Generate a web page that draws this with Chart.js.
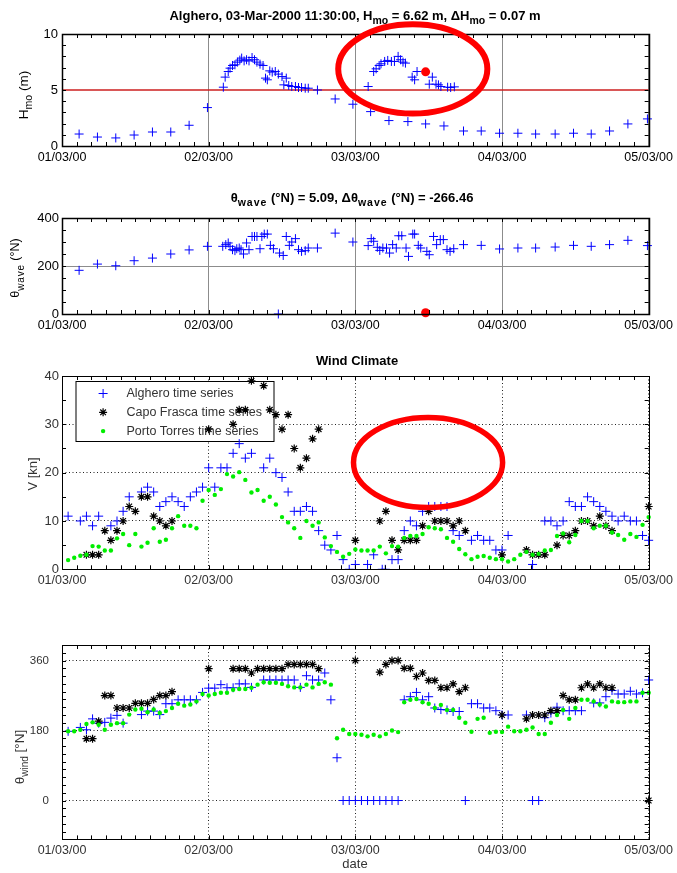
<!DOCTYPE html>
<html>
<head>
<meta charset="utf-8">
<script src="https://cdn.jsdelivr.net/npm/chart.js@4.4.1/dist/chart.umd.min.js"></script>
<style>
  html, body { margin: 0; padding: 0; background: #fff; }
  #page { position: relative; width: 677px; height: 873px; overflow: hidden; }
  #page canvas { position: absolute; left: 0; }
</style>
</head>
<body>
<div id="page">
  <canvas id="hmoChart" width="677" height="175" style="top:0px"></canvas>
  <canvas id="waveDirChart" width="677" height="160" style="top:180px"></canvas>
  <canvas id="windSpeedChart" width="677" height="255" style="top:345px"></canvas>
  <canvas id="windDirChart" width="677" height="263" style="top:610px"></canvas>
</div>
<script>
const FONT = '"Liberation Sans", Arial, Helvetica, sans-serif';

// time axis: hours since 01/03/2000 00:00
const dayTicks = [0, 24, 48, 72, 96];
const dateLabels = ['01/03/00', '02/03/00', '03/03/00', '04/03/00', '05/03/00'];

// wave height (Alghero buoy)
const hmoTicks = [0, 5, 10];
const hmoThreshold = 5;
const hmoNow = [59.5, 6.62];
const hmoDelta = 0.07;
const hmoSeries = [
  [2.8, 1.07], [5.8, 0.8], [8.8, 0.72], [11.8, 0.98], [14.8, 1.25], [17.8, 1.25], [20.8, 1.85], [23.8, 3.43],
  [26.4, 5.25], [26.7, 6.15], [27.2, 6.65], [27.5, 6.95], [27.9, 7.19], [28.3, 7.25], [28.7, 7.49], [29.1, 7.67],
  [29.4, 7.85], [29.8, 7.6], [30.2, 7.7], [30.6, 7.6], [31.1, 7.9], [31.5, 7.7], [31.9, 7.49], [32.4, 7.31],
  [32.9, 7.19], [33.3, 6.06], [33.6, 5.91], [34.0, 6.71], [34.4, 6.6], [34.9, 6.65], [35.4, 6.42], [36.0, 6.2],
  [36.3, 5.46], [36.7, 6.06], [37.1, 5.4], [37.6, 5.31], [38.2, 5.31], [38.7, 5.22], [39.2, 5.22], [39.8, 5.16],
  [40.3, 5.16], [41.8, 5.0], [44.7, 4.2], [47.6, 3.73],
  [50.1, 5.31], [50.5, 3.07], [51.0, 6.65], [51.4, 6.89], [51.9, 7.19], [52.2, 7.34], [52.8, 7.55], [53.3, 7.64],
  [53.5, 2.27], [53.9, 7.55], [54.4, 7.55], [55.0, 8.0], [55.4, 7.7], [55.8, 7.49], [56.2, 7.4], [56.6, 2.18],
  [57.3, 6.15], [57.7, 5.91], [58.1, 6.65], [59.5, 1.97], [60.1, 5.52], [60.6, 6.15], [61.2, 5.52], [61.6, 5.46],
  [62.0, 5.31], [62.5, 1.79], [63.1, 5.25], [63.6, 5.22], [64.2, 5.28],
  [65.7, 1.34], [68.6, 1.34], [71.6, 1.14], [74.6, 1.14], [77.5, 1.07], [80.7, 1.07], [83.7, 1.14], [86.6, 1.07],
  [89.6, 1.34], [92.6, 1.97], [95.8, 2.42]
];

// wave direction
const waveDirTicks = [0, 200, 400];
const waveDirNow = [59.5, 5.09];
const waveDirDelta = -266.46;
const waveDirSeries = [
  [2.8, 182], [5.8, 208], [8.8, 201], [11.8, 222], [14.8, 233], [17.8, 250], [20.8, 267], [23.8, 282],
  [26.3, 282], [26.8, 289], [27.2, 296], [27.5, 282], [27.9, 268], [28.3, 264], [28.6, 272], [29.0, 275],
  [29.3, 268], [29.7, 250], [30.2, 296], [30.6, 268], [31.1, 323], [31.5, 323], [31.9, 323], [32.4, 272],
  [32.7, 323], [33.1, 333], [33.6, 333], [34.1, 286], [34.6, 272], [35.4, 0], [35.6, 254], [36.2, 244],
  [36.7, 323], [37.2, 286], [37.6, 300], [38.2, 314], [38.7, 268], [39.2, 261], [39.8, 264], [40.3, 275],
  [41.8, 275], [44.7, 337], [47.6, 300],
  [50.1, 285], [50.6, 314], [51.0, 303], [51.6, 278], [52.0, 265], [52.5, 275], [53.1, 275], [53.6, 254],
  [54.1, 289], [54.7, 275], [55.1, 326], [55.6, 326], [56.3, 275], [56.7, 240], [57.4, 333], [57.7, 333],
  [58.3, 286], [58.7, 275], [59.7, 261], [60.1, 247], [60.8, 323], [61.3, 289], [61.9, 310], [62.4, 310],
  [63.0, 268], [63.5, 261], [64.1, 272],
  [65.7, 289], [68.6, 286], [71.6, 271], [74.6, 275], [77.5, 275], [80.7, 279], [83.7, 286], [86.6, 282],
  [89.6, 289], [92.6, 307], [95.8, 285]
];

// wind stations
const stationNames = ['Alghero time series', 'Capo Frasca time series', 'Porto Torres time series'];

// wind speed [kn]
const windSpeedTicks = [0, 10, 20, 30, 40];
const algheroSpeed = [
  [1, 11], [3, 10], [4, 11], [5, 9], [6, 11], [8, 9], [9, 10], [10, 12], [11, 15], [13, 16], [14, 17], [15, 16],
  [16, 13], [17, 14], [18, 15], [19, 14], [20, 13], [21, 15], [22, 16], [23, 17], [24, 21], [25, 17], [26, 21],
  [27, 21], [28, 24], [29, 26], [30, 23], [31, 24], [33, 21], [34, 23], [35, 20], [36, 19], [37, 16], [38, 12],
  [39, 12], [40, 13], [41, 12], [42, 8], [43, 5], [44, 4], [45, 7], [46, 2], [47, 0], [48, 1], [50, 1], [51, 3],
  [52.4, 0], [52.9, 0], [54, 2], [55, 2], [56, 8], [57, 10], [58, 9], [59, 12], [60, 13], [61, 13], [62, 13],
  [63, 13], [64, 8], [65, 7], [67, 6], [68, 7], [69, 6], [70, 6], [71, 4], [72, 4], [73, 7], [77, 1], [79, 10],
  [80, 10], [81, 9], [82, 10], [83, 14], [84, 13], [85, 13], [86, 15], [87, 14], [88, 13], [89, 12], [90, 11],
  [91, 10], [92, 11], [93, 10], [94, 10], [95, 7], [96, 6]
];
const capoFrascaSpeed = [
  [4, 3], [5, 3], [6, 3], [7, 8], [8, 6], [9, 8], [10, 10], [11, 13], [12, 12], [13, 15], [14, 15], [15, 11],
  [16, 10], [17, 9], [18, 10], [24, 29], [28, 30], [29, 33], [30, 33], [31, 39], [33, 38], [34, 33], [35, 32],
  [36, 29], [37, 32], [38, 25], [39, 21], [40, 23], [41, 27], [42, 29], [48, 6], [52, 10], [53, 12], [54, 6],
  [55, 4], [56, 6], [57, 6], [58, 6], [59, 9], [60, 12], [61, 10], [62, 10], [63, 10], [64, 9], [65, 10], [66, 8],
  [72, 3], [76, 4], [77, 3], [78, 3], [79, 3], [81, 5], [82, 7], [83, 7], [84, 8], [85, 10], [86, 10], [87, 9],
  [88, 11], [89, 9], [90, 8], [96, 13]
];
const portoTorresSpeed = [
  [1, 1.9], [2, 2.4], [3, 2.8], [4, 3], [5, 4.8], [6, 4.7], [7, 3.9], [8, 3.9], [9, 6.4], [10, 7.3], [11, 5],
  [12, 7.3], [13, 4.7], [14, 5.5], [15, 8.5], [16, 5.7], [17, 6.1], [18, 8.5], [19, 11], [20, 9], [21, 9],
  [22, 8.5], [23, 14.2], [24, 16.4], [25, 15.4], [26, 16.6], [27, 19.7], [28, 19.2], [29, 20.1], [30, 18.5],
  [31, 15.9], [32, 16.4], [33, 14.2], [34, 15], [35, 13.4], [36, 10.8], [37, 9.7], [38, 8.5], [39, 6.5], [40, 10],
  [41, 9], [42, 9.7], [43, 6.6], [44, 4.8], [45, 3.6], [46, 2.6], [47, 3.2], [48, 4.1], [49, 3.9], [50, 3.9],
  [51, 3.9], [52, 4.7], [53, 3.3], [54, 4.8], [55, 4.7], [56, 6.5], [57, 6.9], [58, 6.9], [59, 7.3], [60, 8.7],
  [61, 8.5], [62, 8.3], [63, 6.5], [64, 5.7], [65, 4.2], [66, 3.1], [67, 2.1], [68, 2.6], [69, 2.75], [70, 2.4],
  [71, 2.1], [72, 2.1], [73, 1.6], [74, 2.1], [75, 3], [76, 3.6], [77, 3], [78, 3.2], [79, 3.9], [80, 4],
  [81, 6.9], [82, 7.4], [83, 5.6], [84, 7.1], [85, 10], [86, 10], [87, 8.5], [88, 9], [89, 9], [90, 7.6],
  [91, 7.1], [92, 6.1], [93, 7.3], [94, 6.7], [95, 9.2], [96, 10.8]
];

// wind direction [deg N]
const windDirTicks = [0, 180, 360];
const algheroDir = [
  [1, 178], [3, 188], [4, 182], [5, 210], [6, 199], [7, 201], [8, 212], [9, 219], [10, 199], [13, 221], [14, 230],
  [15, 230], [16, 221], [17, 249], [18, 249], [19, 259], [20, 259], [21, 259], [22, 259], [23, 278], [24, 289],
  [25, 289], [26, 298], [27, 290], [28, 290], [29, 300], [30, 300], [31, 291], [33, 310], [34, 310], [35, 310],
  [36, 310], [37, 310], [38, 310], [39, 291], [40, 321], [41, 310], [42, 310], [43, 328], [44, 259], [45, 110],
  [46, 0], [47, 0], [48, 0], [49, 0], [50, 0], [51, 0], [52, 0], [53, 0], [54, 0], [55, 0], [56, 259], [57, 267],
  [58, 278], [59, 259], [60, 267], [61, 238], [62, 234], [63, 233], [64, 229], [65, 229], [66, 0], [67, 249],
  [68, 249], [69, 238], [70, 238], [71, 231], [72, 220], [73, 220], [76, 220], [77, 0], [78, 0], [79, 213],
  [80, 225], [81, 240], [82, 231], [83, 231], [84, 231], [85, 231], [87, 251], [88, 251], [89, 267], [90, 283],
  [91, 274], [92, 274], [93, 281], [94, 274], [95, 277], [96, 310]
];
const capoFrascaDir = [
  [4, 159], [5, 159], [6, 204], [7, 270], [8, 270], [9, 238], [10, 238], [11, 238], [12, 250], [13, 250],
  [14, 250], [15, 260], [16, 270], [17, 270], [18, 280], [24, 339], [28, 339], [29, 339], [30, 339], [31, 328],
  [32, 339], [33, 339], [34, 339], [35, 339], [36, 339], [37, 350], [38, 350], [39, 350], [40, 350], [41, 350],
  [42, 339], [48, 360], [52, 330], [53, 350], [54, 360], [55, 360], [56, 340], [57, 340], [58, 319], [59, 328],
  [60, 309], [61, 309], [62, 290], [63, 290], [64, 300], [65, 280], [66, 290], [72, 220], [76, 210], [77, 220],
  [78, 220], [79, 220], [80, 231], [81, 231], [82, 270], [83, 259], [84, 259], [85, 290], [86, 300], [87, 290],
  [88, 300], [89, 290], [90, 290], [96, 0]
];
const portoTorresDir = [
  [1, 178], [2, 178], [3, 182], [4, 197], [5, 201], [6, 195], [7, 182], [8, 195], [9, 199], [10, 199], [11, 221],
  [12, 234], [13, 236], [14, 227], [15, 234], [16, 225], [17, 230], [18, 238], [19, 249], [20, 244], [21, 247],
  [22, 255], [23, 274], [24, 270], [25, 274], [26, 277], [27, 277], [28, 285], [29, 287], [30, 287], [31, 290],
  [32, 298], [33, 304], [34, 303], [35, 303], [36, 300], [37, 294], [38, 291], [39, 291], [40, 298], [41, 291],
  [42, 300], [43, 304], [44, 298], [45, 160], [46, 182], [47, 171], [48, 171], [49, 169], [50, 165], [51, 169],
  [52, 165], [53, 171], [54, 180], [55, 176], [56, 253], [57, 259], [58, 261], [59, 253], [60, 249], [61, 238],
  [62, 246], [63, 233], [64, 233], [65, 213], [66, 200], [67, 177], [68, 210], [69, 213], [70, 174], [71, 177],
  [72, 176], [73, 190], [74, 178], [75, 178], [76, 182], [77, 188], [78, 171], [79, 171], [80, 200], [81, 220],
  [82, 233], [83, 210], [84, 238], [85, 259], [86, 259], [87, 255], [88, 247], [89, 242], [90, 255], [91, 253],
  [92, 253], [93, 255], [94, 255], [95, 277], [96, 277]
];

const pts = arr => arr.map(([x, y]) => ({ x, y }));

// marker styles, matlab-like
const blueCross = { pointStyle: 'cross', pointRadius: 4.5, borderColor: '#0000ff', backgroundColor: '#0000ff', borderWidth: 1 };
const blackStar = { pointStyle: 'star', pointRadius: 4, borderColor: '#000000', backgroundColor: '#000000', borderWidth: 1.2 };
const greenDot = { pointStyle: 'circle', pointRadius: 2.2, borderColor: '#00ee00', backgroundColor: '#00ee00', borderWidth: 0 };

// text with subscripts; parts = [[text, isSub], ...]
function drawRich(ctx, parts, x, y, o) {
  const fontFor = sub => `${o.weight || 'normal'} ${sub ? o.subSize : o.size}px ${FONT}`;
  let total = 0;
  const widths = parts.map(([t, sub]) => {
    ctx.font = fontFor(sub);
    ctx.letterSpacing = sub && o.subSpacing ? o.subSpacing : '0px';
    const w = ctx.measureText(t).width;
    total += w;
    return w;
  });
  let cx = x - total / 2;
  ctx.fillStyle = o.color;
  ctx.textAlign = 'left';
  ctx.textBaseline = 'alphabetic';
  parts.forEach(([t, sub], i) => {
    ctx.font = fontFor(sub);
    ctx.letterSpacing = sub && o.subSpacing ? o.subSpacing : '0px';
    ctx.fillText(t, cx, sub ? y + o.subDrop : y);
    cx += widths[i];
  });
  ctx.letterSpacing = '0px';
}

function drawLegend(chart) {
  const { ctx, chartArea: a } = chart;
  const left = a.left + 13.5, top = a.top + 5, w = 198, h = 60;
  ctx.save();
  ctx.fillStyle = '#fff';
  ctx.fillRect(left, top, w, h);
  ctx.strokeStyle = '#000';
  ctx.lineWidth = 1;
  ctx.strokeRect(left + 0.5, top + 0.5, w, h);
  chart.data.datasets.forEach((ds, i) => {
    const cy = top + 12.5 + i * 18.8;
    ctx.strokeStyle = ds.borderColor;
    ctx.fillStyle = ds.backgroundColor;
    ctx.lineWidth = ds.borderWidth;
    Chart.helpers.drawPoint(ctx, { pointStyle: ds.pointStyle, radius: ds.pointRadius, borderWidth: ds.borderWidth, rotation: 0 }, left + 27.6, cy);
    ctx.fillStyle = '#333';
    ctx.font = `12.5px ${FONT}`;
    ctx.textAlign = 'left';
    ctx.textBaseline = 'middle';
    ctx.fillText(ds.label, left + 51, cy + 0.5);
  });
  ctx.restore();
}

// box, inward ticks, titles, axis labels and the red highlight rings
function framePlugin(cfg) {
  return {
    id: 'frame',
    beforeDatasetsDraw(chart) {
      if (cfg.legend) drawLegend(chart);
    },
    afterDraw(chart) {
      const { ctx, chartArea: a, scales: { x, y } } = chart;
      ctx.save();
      ctx.strokeStyle = '#000';
      ctx.lineWidth = 1;
      ctx.beginPath();
      for (let v = x.min; v <= x.max + 1e-6; v += cfg.xMinor) {
        const px = Math.round(x.getPixelForValue(v)) + 0.5;
        ctx.moveTo(px, a.top); ctx.lineTo(px, a.top + cfg.tick);
        ctx.moveTo(px, a.bottom); ctx.lineTo(px, a.bottom - cfg.tick);
      }
      for (let v = y.min; v <= y.max + 1e-6; v += cfg.yMinor) {
        const py = Math.round(y.getPixelForValue(v)) + 0.5;
        ctx.moveTo(a.left, py); ctx.lineTo(a.left + cfg.tick, py);
        ctx.moveTo(a.right, py); ctx.lineTo(a.right - cfg.tick, py);
      }
      ctx.stroke();
      ctx.lineWidth = cfg.boxWidth;
      ctx.strokeRect(Math.round(a.left) + 0.5, Math.round(a.top) + 0.5, Math.round(a.right - a.left), Math.round(a.bottom - a.top));

      if (cfg.ellipse) {
        const e = cfg.ellipse;
        const cx = x.getPixelForValue(e.x), cy = y.getPixelForValue(e.y);
        const rx = x.getPixelForValue(e.x + e.rx) - cx;
        const ry = cy - y.getPixelForValue(e.y + e.ry);
        ctx.strokeStyle = '#ff0000';
        ctx.lineWidth = e.width;
        ctx.beginPath();
        ctx.ellipse(cx, cy, rx, ry, 0, 0, Math.PI * 2);
        ctx.stroke();
      }

      if (cfg.title) {
        drawRich(ctx, cfg.title, cfg.titleX, cfg.titleY,
          { size: 13, subSize: 10.5, subDrop: 4, weight: 'bold', color: '#000', subSpacing: cfg.titleSubSpacing });
      }
      if (cfg.yLabel) {
        ctx.save();
        ctx.translate(cfg.yLabelX, cfg.yLabelY);
        ctx.rotate(-Math.PI / 2);
        drawRich(ctx, cfg.yLabel, 0, 0,
          { size: cfg.yLabelSize, subSize: cfg.yLabelSubSize, subDrop: cfg.yLabelSubDrop, color: cfg.textColor, subSpacing: cfg.yLabelSubSpacing });
        ctx.restore();
      }
      if (cfg.xLabel) {
        ctx.font = `13px ${FONT}`;
        ctx.fillStyle = cfg.textColor;
        ctx.textAlign = 'center';
        ctx.textBaseline = 'alphabetic';
        ctx.fillText(cfg.xLabel, cfg.xLabelX, cfg.xLabelY);
      }
      ctx.restore();
    }
  };
}

function makePanel(id, p) {
  return new Chart(document.getElementById(id), {
    type: 'scatter',
    data: { datasets: p.datasets },
    options: {
      responsive: false,
      animation: false,
      devicePixelRatio: 1,
      layout: { padding: { left: 0, right: 25, top: p.top, bottom: p.bottom } },
      plugins: { legend: { display: false }, tooltip: { enabled: false } },
      scales: {
        x: {
          type: 'linear',
          min: 0,
          max: 96,
          afterBuildTicks: s => { s.ticks = dayTicks.map(v => ({ value: v })); },
          afterFit: s => { s.height = 20; },
          ticks: {
            callback: (v, i) => dateLabels[i],
            autoSkip: false,
            maxRotation: 0,
            padding: 4,
            color: p.textColor,
            font: { family: FONT, size: 12.5 }
          },
          grid: { color: p.gridColor, lineWidth: 1, drawTicks: false },
          border: { display: false, dash: p.dash }
        },
        y: {
          type: 'linear',
          min: p.yMin,
          max: p.yMax,
          afterBuildTicks: s => { s.ticks = p.yTicks.map(v => ({ value: v })); },
          afterFit: s => { s.width = 62; },
          ticks: {
            padding: p.yPad,
            color: p.textColor,
            font: { family: FONT, size: p.yTickSize }
          },
          grid: { display: p.yGrid, color: p.gridColor, lineWidth: 1, drawTicks: false },
          border: { display: false, dash: p.dash }
        }
      }
    },
    plugins: [framePlugin(p.frame)]
  });
}

// Hmo panel
makePanel('hmoChart', {
  top: 34, bottom: 9, yMin: 0, yMax: 10, yTicks: hmoTicks, yPad: 4, yTickSize: 13,
  textColor: '#000', gridColor: '#8c8c8c', dash: [], yGrid: false,
  datasets: [
    { label: 'now', data: pts([hmoNow]), pointStyle: 'circle', pointRadius: 4.5, backgroundColor: '#ff0000', borderColor: '#ff0000', borderWidth: 0, clip: false },
    { label: 'Hmo', data: pts(hmoSeries), ...blueCross, clip: false },
    { label: 'threshold', type: 'line', data: pts([[0, hmoThreshold], [96, hmoThreshold]]), borderColor: '#cc1f1f', borderWidth: 1.3, pointRadius: 0, showLine: true }
  ],
  frame: {
    boxWidth: 1.5, tick: 4, xMinor: 2.4, yMinor: 1,
    title: [['Alghero, 03-Mar-2000 11:30:00, H', false], ['mo', true], [` = ${hmoNow[1].toFixed(2)} m, \u0394H`, false], ['mo', true], [` = ${hmoDelta.toFixed(2)} m`, false]],
    titleX: 355, titleY: 20,
    yLabel: [['H', false], ['mo', true], [' (m)', false]],
    yLabelX: 28, yLabelY: 95, yLabelSize: 13.5, yLabelSubSize: 10.5, yLabelSubDrop: 4,
    textColor: '#000',
    ellipse: { x: 57.4, y: 6.88, rx: 12.2, ry: 3.98, width: 6 }
  }
});

// wave direction panel
makePanel('waveDirChart', {
  top: 38, bottom: 6, yMin: 0, yMax: 400, yTicks: waveDirTicks, yPad: 3, yTickSize: 13,
  textColor: '#000', gridColor: '#8c8c8c', dash: [], yGrid: true,
  datasets: [
    { label: 'now', data: pts([waveDirNow]), pointStyle: 'circle', pointRadius: 4.5, backgroundColor: '#ff0000', borderColor: '#ff0000', borderWidth: 0, clip: false },
    { label: 'direction', data: pts(waveDirSeries), ...blueCross, clip: false }
  ],
  frame: {
    boxWidth: 1.5, tick: 4, xMinor: 2.4, yMinor: 50,
    title: [['\u03b8', false], ['wave', true], [` (\u00b0N) = ${waveDirNow[1].toFixed(2)}, \u0394\u03b8`, false], ['wave', true], [` (\u00b0N) = ${waveDirDelta.toFixed(2)}`, false]],
    titleSubSpacing: '1px',
    titleX: 352, titleY: 21.7,
    yLabel: [['\u03b8', false], ['wave', true], [' (\u00b0N)', false]],
    yLabelX: 18.5, yLabelY: 88, yLabelSize: 12.5, yLabelSubSize: 10, yLabelSubDrop: 5, yLabelSubSpacing: '0.8px',
    textColor: '#000'
  }
});

// wind speed panel
makePanel('windSpeedChart', {
  top: 31, bottom: 10.7, yMin: 0, yMax: 40, yTicks: windSpeedTicks, yPad: 3, yTickSize: 13,
  textColor: '#333', gridColor: '#222', dash: [1, 2.5], yGrid: true,
  datasets: [
    { label: stationNames[0], data: pts(algheroSpeed), ...blueCross, order: 2, clip: { left: 6, top: 6, right: 6, bottom: 0 } },
    { label: stationNames[1], data: pts(capoFrascaSpeed), ...blackStar, order: 1, clip: { left: 6, top: 6, right: 6, bottom: 0 } },
    { label: stationNames[2], data: pts(portoTorresSpeed), ...greenDot, order: 0, clip: { left: 6, top: 6, right: 6, bottom: 0 } }
  ],
  frame: {
    boxWidth: 1, tick: 4, xMinor: 2.4, yMinor: 5,
    title: [['Wind Climate', false]],
    titleX: 357, titleY: 20,
    yLabel: [['V [kn]', false]],
    yLabelX: 37, yLabelY: 129, yLabelSize: 13, yLabelSubSize: 10, yLabelSubDrop: 0,
    textColor: '#333',
    legend: true,
    ellipse: { x: 59.9, y: 22.1, rx: 12.2, ry: 9.3, width: 5.5 }
  }
});

// wind direction panel
makePanel('windDirChart', {
  top: 35, bottom: 13.6, yMin: -100, yMax: 400, yTicks: windDirTicks, yPad: 13, yTickSize: 11.5,
  textColor: '#333', gridColor: '#222', dash: [1, 2.5], yGrid: true,
  datasets: [
    { label: stationNames[0], data: pts(algheroDir), ...blueCross, order: 2, clip: false },
    { label: stationNames[1], data: pts(capoFrascaDir), ...blackStar, order: 1, clip: false },
    { label: stationNames[2], data: pts(portoTorresDir), ...greenDot, order: 0, clip: false }
  ],
  frame: {
    boxWidth: 1, tick: 4, xMinor: 2.4, yMinor: 20,
    yLabel: [['\u03b8', false], ['wind', true], [' [\u00b0N]', false]],
    yLabelX: 24, yLabelY: 147, yLabelSize: 13.5, yLabelSubSize: 10, yLabelSubDrop: 3.5,
    textColor: '#333',
    xLabel: 'date', xLabelX: 355, xLabelY: 258
  }
});
</script>
</body>
</html>
